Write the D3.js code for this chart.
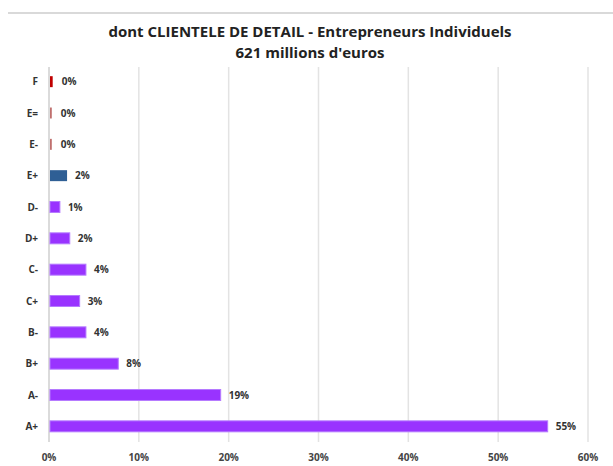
<!DOCTYPE html>
<html>
<head>
<meta charset="utf-8">
<script src="https://cdn.jsdelivr.net/npm/d3@7"></script>
<style>
  body { margin: 0; background: #fff; }
  text { font-family: "Open Sans", "Liberation Sans", sans-serif; }
</style>
</head>
<body>
<div id="chart"></div>
<script>
// ratings, top to bottom as drawn
let ratings = ["F", "E=", "E-", "E+", "D-", "D+", "C-", "C+", "B-", "B+", "A-", "A+"];
let shares = [0.3, 0.2, 0.2, 1.9, 1.1, 2.2, 4.0, 3.3, 4.0, 7.6, 19.0, 55.4];
let shareLabels = ["0%", "0%", "0%", "2%", "1%", "2%", "4%", "3%", "4%", "8%", "19%", "55%"];
let tickValues = [0, 10, 20, 30, 40, 50, 60];

let width = 613, height = 466;
let margin = {top: 67, right: 25, bottom: 24, left: 49};

let svg = d3.select("#chart")
    .append("svg")
    .attr("width", width)
    .attr("height", height);

// faint frame line at the top
svg.append("line")
    .attr("x1", 8).attr("x2", width)
    .attr("y1", 13).attr("y2", 13)
    .attr("stroke", "#d9d9d9")
    .attr("stroke-width", 2);

// title
svg.append("text")
    .attr("x", 310).attr("y", 37)
    .attr("text-anchor", "middle")
    .style("font-size", "15px")
    .style("font-weight", "bold")
    .attr("fill", "#222")
    .text("dont CLIENTELE DE DETAIL - Entrepreneurs Individuels");
svg.append("text")
    .attr("x", 310).attr("y", 58)
    .attr("text-anchor", "middle")
    .style("font-size", "15px")
    .style("font-weight", "bold")
    .attr("fill", "#222")
    .text("621 millions d'euros");

let x = d3.scaleLinear()
    .domain([0, 60])
    .range([margin.left, 588]);

let y = d3.scaleBand()
    .domain(ratings)
    .range([66, 442])
    .paddingInner(0.65)
    .paddingOuter(0.325);

// vertical gridlines
svg.append("g")
    .selectAll("line")
    .data(tickValues)
    .enter()
    .append("line")
    .attr("x1", d => x(d)).attr("x2", d => x(d))
    .attr("y1", margin.top).attr("y2", height - margin.bottom)
    .attr("stroke", d => d === 0 ? "#cfcfcf" : "#e3e3e3")
    .attr("stroke-width", 1.5);

// x tick labels
svg.append("g")
    .selectAll("text")
    .data(tickValues)
    .enter()
    .append("text")
    .attr("x", d => x(d))
    .attr("y", 461)
    .attr("text-anchor", "middle")
    .style("font-size", "10px")
    .style("font-weight", "bold")
    .attr("fill", "#444")
    .text(d => d + "%");

// category labels
svg.append("g")
    .selectAll("text")
    .data(ratings)
    .enter()
    .append("text")
    .attr("x", 38)
    .attr("y", d => y(d) + y.bandwidth() / 2 + 3.5)
    .attr("text-anchor", "end")
    .style("font-size", "10px")
    .style("font-weight", "bold")
    .attr("fill", "#333")
    .text(d => d);

function barColor(r) {
    if (r === "F") return "#c00000";
    if (r === "E=" || r === "E-") return "#c0706e";
    if (r === "E+") return "#2f5f95";
    return "#9933ff";
}

// bars
svg.append("g")
    .selectAll("rect")
    .data(ratings)
    .enter()
    .append("rect")
    .attr("x", x(0) + 1)
    .attr("y", (d, i) => y(d))
    .attr("width", (d, i) => x(shares[i]) - x(0))
    .attr("height", y.bandwidth())
    .attr("fill", d => barColor(d))
    .attr("stroke", d => barColor(d) === "#9933ff" ? "#b57aff" : "none")
    .attr("stroke-width", 1);

// value labels
svg.append("g")
    .selectAll("text")
    .data(ratings)
    .enter()
    .append("text")
    .attr("x", (d, i) => x(shares[i]) + (shares[i] < 1 ? 10 : 9))
    .attr("y", d => y(d) + y.bandwidth() / 2 + 3.5)
    .style("font-size", "10px")
    .style("font-weight", "bold")
    .attr("fill", "#333")
    .text((d, i) => shareLabels[i]);
</script>
</body>
</html>
